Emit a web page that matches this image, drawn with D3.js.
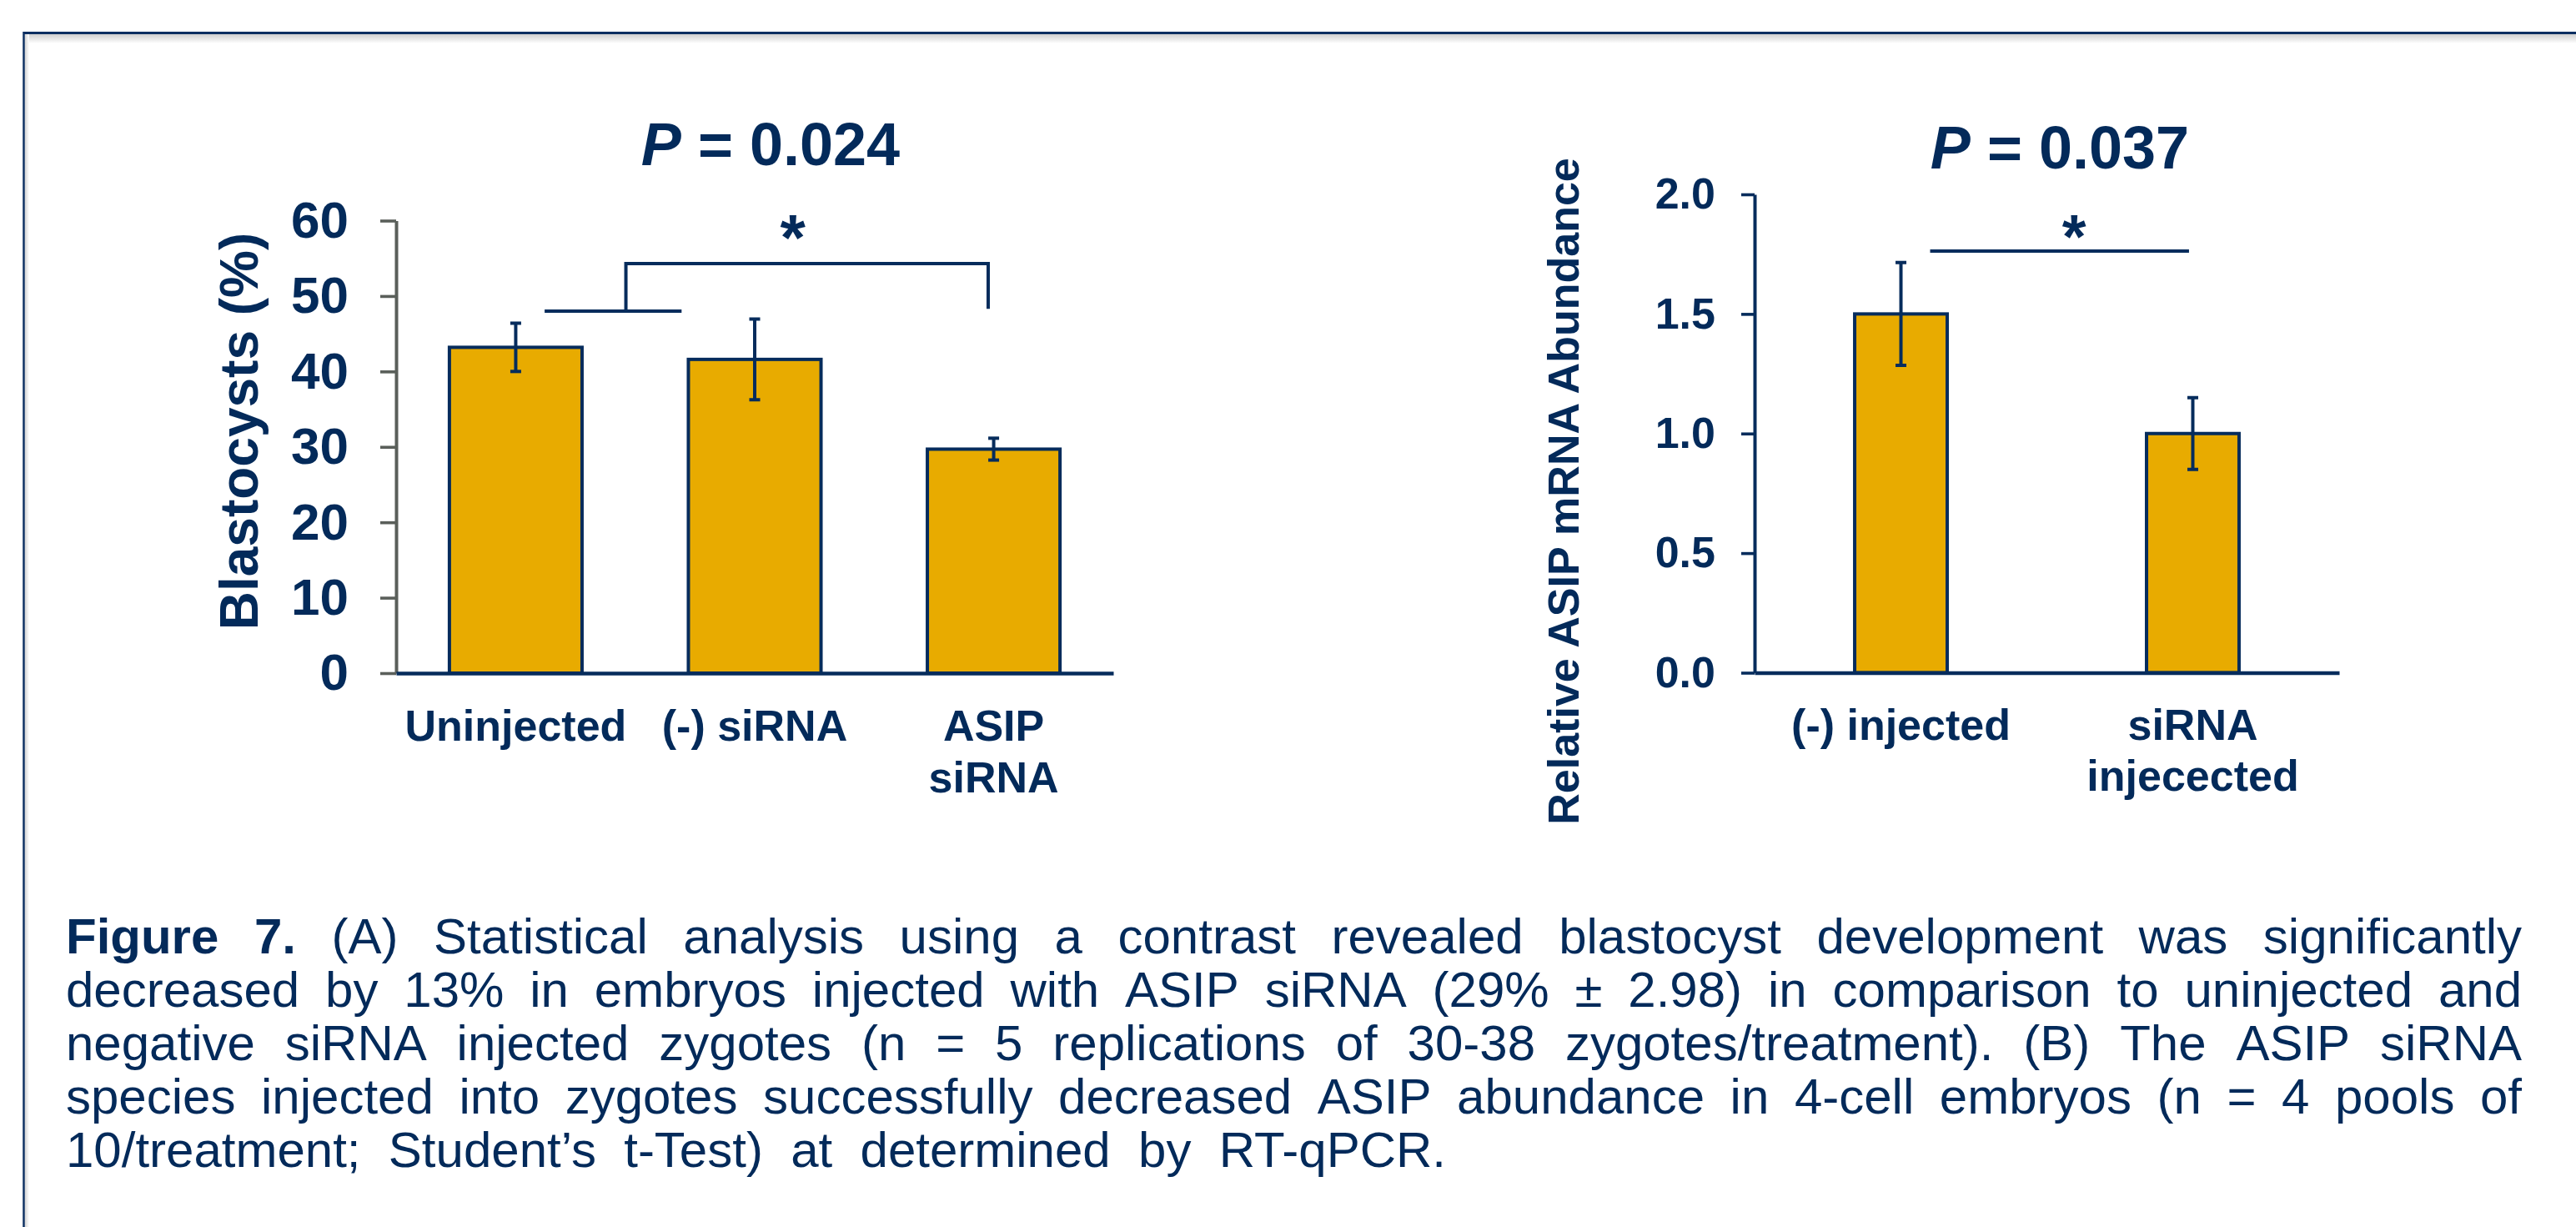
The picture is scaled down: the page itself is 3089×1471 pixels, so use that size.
<!DOCTYPE html>
<html>
<head>
<meta charset="utf-8">
<script src="https://cdn.jsdelivr.net/npm/d3@7"></script>
<style>
  html, body { margin: 0; padding: 0; background: #fff; }
  svg { display: block; }
</style>
</head>
<body>
<svg id="fig" width="3089" height="1471"></svg>
<script>
// ---------- Panel A: blastocyst development ----------
const blastGroups = ["Uninjected", "(-) siRNA", "ASIP siRNA"];
const blastLabelLines = [["Uninjected"], ["(-) siRNA"], ["ASIP", "siRNA"]];
const blastMean = [43.2, 41.6, 29.7];
const blastErr = [3.2, 5.35, 1.45];
const blastTicks = [0, 10, 20, 30, 40, 50, 60];
const blastTitle = "Blastocysts (%)";
const blastP = "0.024";

// ---------- Panel B: relative ASIP mRNA ----------
const asipGroups = ["(-) injected", "siRNA injecected"];
const asipLabelLines = [["(-) injected"], ["siRNA", "injecected"]];
const asipMean = [1.5, 1.0];
const asipErr = [0.215, 0.15];
const asipTicks = [0, 0.5, 1.0, 1.5, 2.0];
const asipTitle = "Relative ASIP mRNA Abundance";
const asipP = "0.037";

// Significance marks: x in category-index units, y in data units
const blastBracket = { baseFrom: 0.121, baseTo: 0.694, baseY: 48.0, stem: 0.461, topY: 54.3, right: 1.977, rightY: 48.3, star: 1.159, starY: 58.6 };
const asipBracket = { from: 0.10, to: 0.987, y: 1.763, star: 0.593, starY: 1.86 };

// ---------- Caption ----------
const captionLead = "Figure 7.";
const captionLines = [
  "Figure 7. (A) Statistical analysis using a contrast revealed blastocyst development was significantly",
  "decreased by 13% in embryos injected with ASIP siRNA (29% \u00B1 2.98) in comparison to uninjected and",
  "negative siRNA injected zygotes (n = 5 replications of 30-38 zygotes/treatment). (B) The ASIP siRNA",
  "species injected into zygotes successfully decreased ASIP abundance in 4-cell embryos (n = 4 pools of",
  "10/treatment; Student\u2019s t-Test) at determined by RT-qPCR."
];

const FONT = "'Liberation Sans', Arial, Helvetica, sans-serif";
const NAVY = "#062c5c";
const TEXT = "#032a5a";
const BAR = "#e8ab00";
const GRAY = "#5a5f5a";

const svg = d3.select("#fig").style("font-family", FONT);

// ---------- Frame with soft shadow ----------
const defs = svg.append("defs");
const gTop = defs.append("linearGradient").attr("id", "shTop").attr("x1", 0).attr("y1", 0).attr("x2", 0).attr("y2", 1);
gTop.append("stop").attr("offset", 0).attr("stop-color", "#cfcfcf");
gTop.append("stop").attr("offset", 1).attr("stop-color", "#ffffff");
const gLeft = defs.append("linearGradient").attr("id", "shLeft").attr("x1", 0).attr("y1", 0).attr("x2", 1).attr("y2", 0);
gLeft.append("stop").attr("offset", 0).attr("stop-color", "#d4d4d4");
gLeft.append("stop").attr("offset", 1).attr("stop-color", "#ffffff");
svg.append("rect").attr("x", 30).attr("y", 41).attr("width", 3059).attr("height", 11).attr("fill", "url(#shTop)");
svg.append("rect").attr("x", 30).attr("y", 41).attr("width", 5).attr("height", 1430).attr("fill", "url(#shLeft)");
svg.append("line").attr("x1", 28).attr("x2", 3089).attr("y1", 39.5).attr("y2", 39.5).attr("stroke", "#0c2f61").attr("stroke-width", 3);
svg.append("line").attr("x1", 28.5).attr("x2", 28.5).attr("y1", 38).attr("y2", 1471).attr("stroke", "#0c2f61").attr("stroke-width", 2.5);

// ---------- Generic bar panel ----------
function drawPanel(cfg) {
  const g = svg.append("g");
  const x = d3.scaleBand().domain(cfg.groups).range(cfg.xRange)
    .paddingInner(cfg.padInner).paddingOuter(cfg.padOuter);
  const y = d3.scaleLinear().domain(cfg.yDomain).range(cfg.yRange);
  const step = x.step(), bw = x.bandwidth();
  const cx = i => x(cfg.groups[0]) + bw / 2 + i * step;

  // bars
  g.selectAll("rect.bar").data(cfg.mean).join("rect")
    .attr("class", "bar")
    .attr("x", (d, i) => x(cfg.groups[i]))
    .attr("y", d => y(d))
    .attr("width", bw)
    .attr("height", d => y(0) - y(d))
    .attr("fill", BAR)
    .attr("stroke", NAVY)
    .attr("stroke-width", 4);

  // error bars
  const eb = g.selectAll("g.err").data(cfg.mean).join("g").attr("class", "err");
  eb.append("line")
    .attr("x1", (d, i) => cx(i)).attr("x2", (d, i) => cx(i))
    .attr("y1", (d, i) => y(d + cfg.err[i])).attr("y2", (d, i) => y(d - cfg.err[i]))
    .attr("stroke", NAVY).attr("stroke-width", 4);
  [1, -1].forEach(s => {
    eb.append("line")
      .attr("x1", (d, i) => cx(i) - 6.5).attr("x2", (d, i) => cx(i) + 6.5)
      .attr("y1", (d, i) => y(d + s * cfg.err[i])).attr("y2", (d, i) => y(d + s * cfg.err[i]))
      .attr("stroke", NAVY).attr("stroke-width", 4);
  });

  // y axis
  const yAxis = g.append("g").attr("transform", `translate(${cfg.xRange[0]},0)`)
    .call(d3.axisLeft(y).tickValues(cfg.ticks).tickFormat(cfg.tickFormat)
      .tickSize(cfg.tickLen).tickSizeOuter(0).tickPadding(cfg.tickPad));
  yAxis.select(".domain").attr("stroke", cfg.yAxisColor).attr("stroke-width", 4);
  yAxis.selectAll(".tick line").attr("stroke", cfg.yAxisColor).attr("stroke-width", 3.6);
  yAxis.selectAll(".tick text")
    .attr("fill", TEXT).attr("font-family", FONT).attr("font-weight", "bold")
    .attr("font-size", cfg.tickFont);

  // x axis with multi-line category labels
  const xAxis = g.append("g").attr("transform", `translate(0,${y(0)})`)
    .call(d3.axisBottom(x).tickSize(0).tickSizeOuter(0).tickFormat(""));
  xAxis.select(".domain").attr("stroke", NAVY).attr("stroke-width", 4.5);
  xAxis.selectAll(".tick text").remove();
  xAxis.selectAll(".tick").each(function (d, i) {
    const t = d3.select(this).append("text")
      .attr("fill", TEXT).attr("font-family", FONT).attr("font-weight", "bold")
      .attr("font-size", cfg.catFont).attr("text-anchor", "middle");
    cfg.labelLines[i].forEach((ln, k) => {
      t.append("tspan").attr("x", 0).attr("y", cfg.catBase + k * cfg.catLead).text(ln);
    });
  });

  // y axis title
  svg.append("text")
    .attr("transform", `translate(${cfg.titleX},${cfg.titleY}) rotate(-90)`)
    .attr("text-anchor", "middle")
    .attr("fill", TEXT).attr("font-weight", "bold").attr("font-size", cfg.titleFont)
    .text(cfg.title);

  // P value heading
  const p = svg.append("text")
    .attr("x", cfg.pX).attr("y", cfg.pY).attr("text-anchor", "middle")
    .attr("fill", TEXT).attr("font-weight", "bold").attr("font-size", 72);
  p.append("tspan").attr("font-style", "italic").text("P");
  p.append("tspan").text(" = " + cfg.p);

  return { x, y, cx, g };
}

// ---------- Panel A ----------
const A = drawPanel({
  groups: blastGroups, labelLines: blastLabelLines, mean: blastMean, err: blastErr,
  xRange: [475, 1335], padInner: 0.445, padOuter: 0.223,
  yDomain: [0, 60], yRange: [807, 264.5], ticks: blastTicks, tickFormat: d3.format("d"),
  tickLen: 19, tickPad: 38, tickFont: 62, yAxisColor: GRAY,
  catFont: 52, catBase: 81, catLead: 62,
  title: blastTitle, titleX: 309, titleY: 517, titleFont: 64,
  p: blastP, pX: 924, pY: 198
});
{
  const b = blastBracket, yA = A.y, cx = A.cx;
  const path = d3.path();
  path.moveTo(cx(b.baseFrom), yA(b.baseY)); path.lineTo(cx(b.baseTo), yA(b.baseY));
  path.moveTo(cx(b.stem), yA(b.baseY)); path.lineTo(cx(b.stem), yA(b.topY));
  path.lineTo(cx(b.right), yA(b.topY)); path.lineTo(cx(b.right), yA(b.rightY));
  A.g.append("path").attr("d", path.toString()).attr("fill", "none")
    .attr("stroke", NAVY).attr("stroke-width", 4);
  A.g.append("text").attr("x", cx(b.star)).attr("y", yA(b.starY) + 35)
    .attr("text-anchor", "middle").attr("fill", TEXT).attr("font-weight", "bold")
    .attr("font-size", 78).text("*");
}

// ---------- Panel B ----------
const B = drawPanel({
  groups: asipGroups, labelLines: asipLabelLines, mean: asipMean, err: asipErr,
  xRange: [2104, 2805], padInner: 0.683, padOuter: 0.343,
  yDomain: [0, 2], yRange: [806.5, 233], ticks: asipTicks, tickFormat: d3.format(".1f"),
  tickLen: 16, tickPad: 31, tickFont: 52, yAxisColor: NAVY,
  catFont: 52, catBase: 80, catLead: 61,
  title: asipTitle, titleX: 1893, titleY: 589, titleFont: 52,
  p: asipP, pX: 2470, pY: 202
});
{
  const b = asipBracket, yB = B.y, cx = B.cx;
  B.g.append("line").attr("x1", cx(b.from)).attr("x2", cx(b.to))
    .attr("y1", yB(b.y)).attr("y2", yB(b.y)).attr("stroke", NAVY).attr("stroke-width", 4);
  B.g.append("text").attr("x", cx(b.star)).attr("y", yB(b.starY) + 36)
    .attr("text-anchor", "middle").attr("fill", TEXT).attr("font-weight", "bold")
    .attr("font-size", 74).text("*");
}

// ---------- Caption (justified; last line set with wider word spacing) ----------
const capFont = 60, capLeft = 79, capRight = 3024, lastRight = 1734, capTop = 1143, capLead = 64;
const cap = svg.append("g").attr("fill", TEXT).attr("font-size", capFont);
const leadWords = captionLead.split(" ").length;
captionLines.forEach((line, li) => {
  const words = line.split(" ");
  const yb = capTop + li * capLead;
  const right = li === captionLines.length - 1 ? lastRight : capRight;
  const nodes = words.map((w, wi) => cap.append("text").attr("y", yb)
    .attr("font-weight", (li === 0 && wi < leadWords) ? "bold" : "normal").text(w));
  const widths = nodes.map(n => n.node().getComputedTextLength());
  const gap = (right - capLeft - d3.sum(widths)) / (words.length - 1);
  let xPos = capLeft;
  nodes.forEach((n, i) => { n.attr("x", xPos); xPos += widths[i] + gap; });
});
</script>
</body>
</html>
